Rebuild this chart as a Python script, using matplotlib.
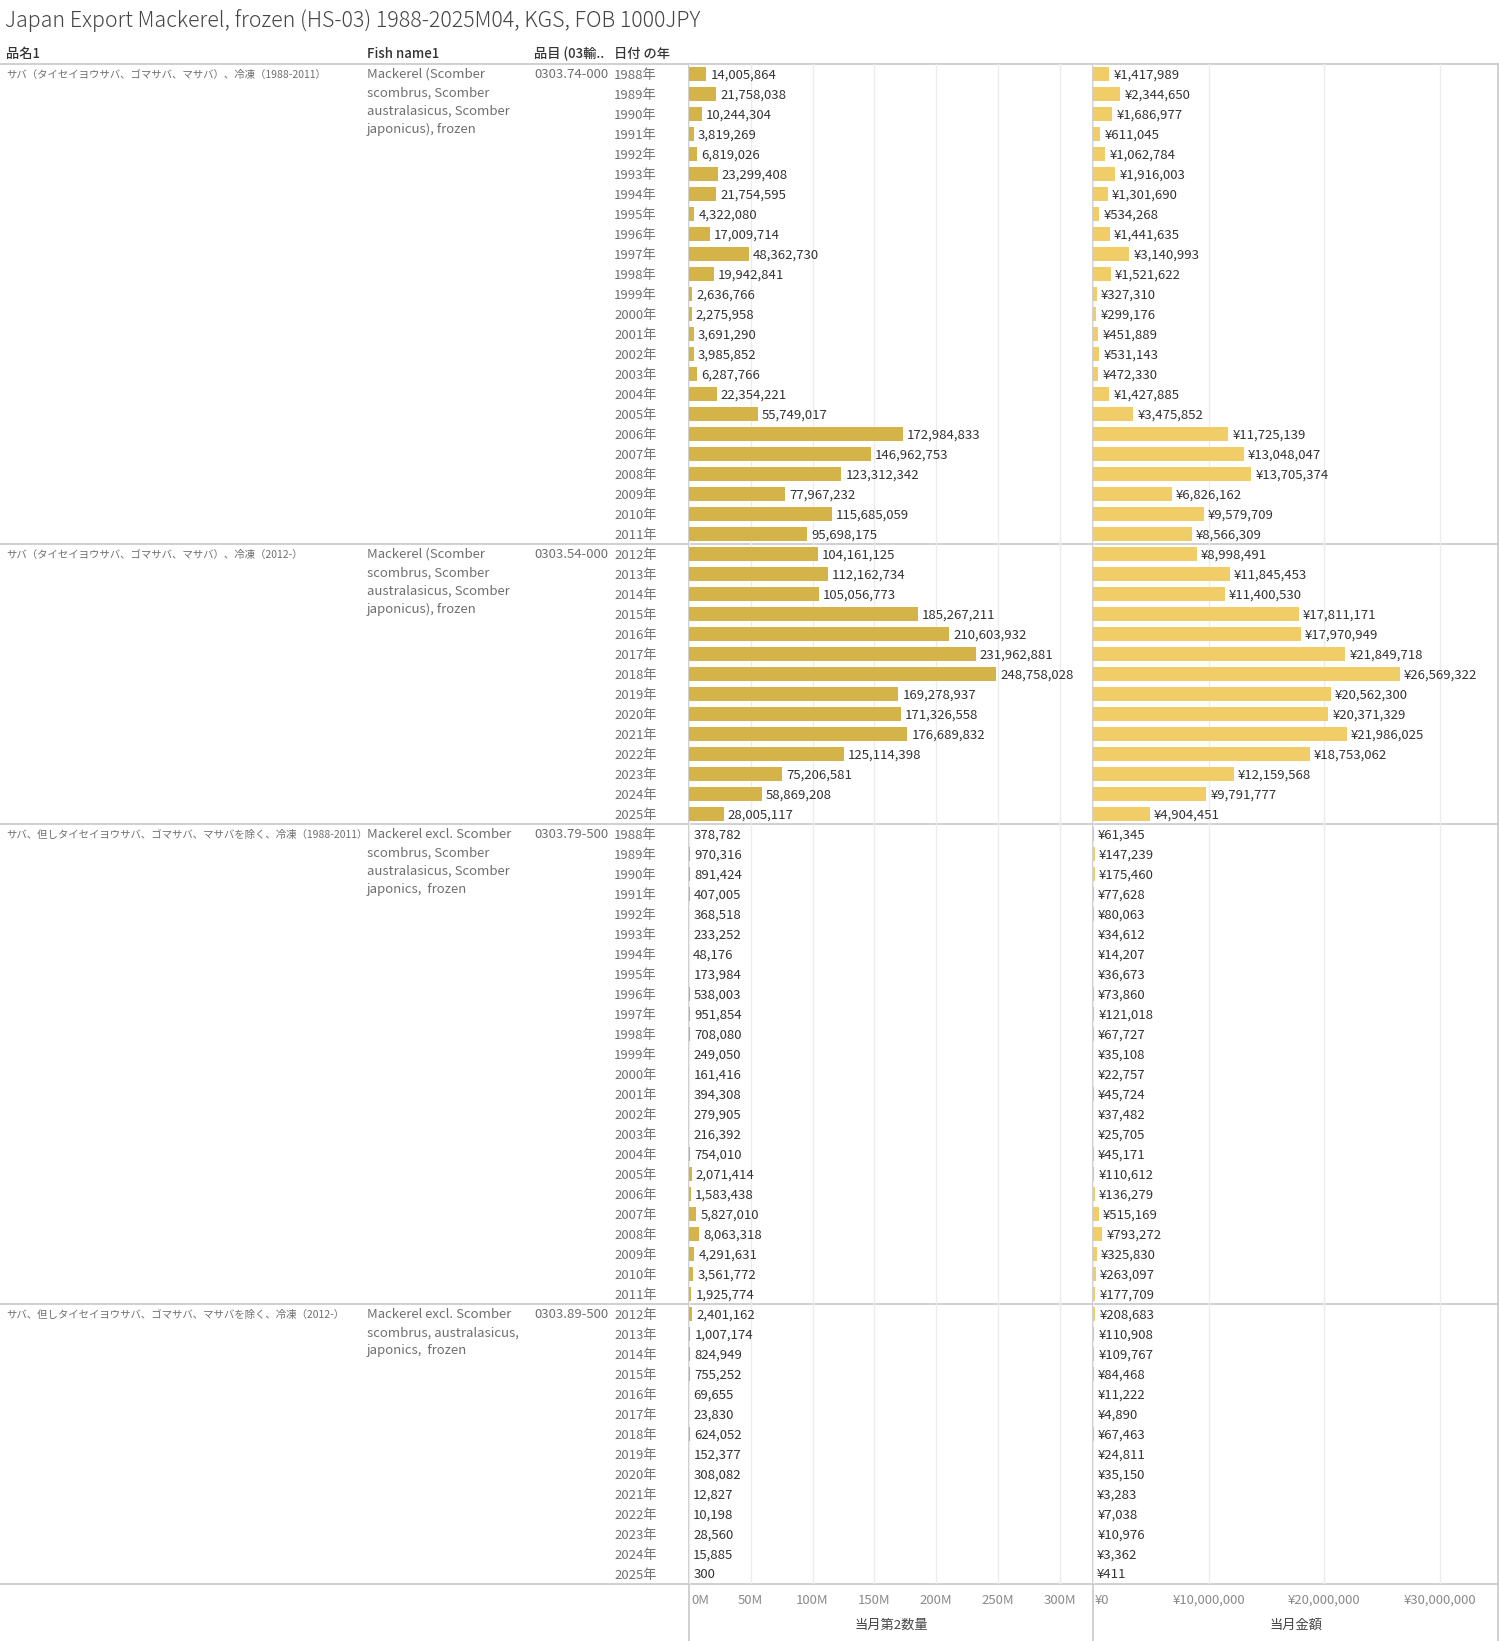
import matplotlib
matplotlib.use("Agg")
import matplotlib.pyplot as plt

plt.rcParams['font.family'] = ['Noto Sans CJK JP', 'DejaVu Sans']

# ---------------- data ----------------
title = "Japan Export Mackerel, frozen (HS-03) 1988-2025M04, KGS, FOB 1000JPY"
headers = ["品名1", "Fish name1", "品目 (03輸..", "日付 の年"]

group_names = [
    "サバ（タイセイヨウサバ、ゴマサバ、マサバ）、冷凍（1988-2011）",
    "サバ（タイセイヨウサバ、ゴマサバ、マサバ）、冷凍（2012-）",
    "サバ、但しタイセイヨウサバ、ゴマサバ、マサバを除く、冷凍（1988-2011）",
    "サバ、但しタイセイヨウサバ、ゴマサバ、マサバを除く、冷凍（2012-）",
]
fish_names = [
    "Mackerel (Scomber\nscombrus, Scomber\naustralasicus, Scomber\njaponicus), frozen",
    "Mackerel (Scomber\nscombrus, Scomber\naustralasicus, Scomber\njaponicus), frozen",
    "Mackerel excl. Scomber\nscombrus, Scomber\naustralasicus, Scomber\njaponics,  frozen",
    "Mackerel excl. Scomber\nscombrus, australasicus,\njaponics,  frozen",
]
hs_codes = ["0303.74-000", "0303.54-000", "0303.79-500", "0303.89-500"]
years_a = list(range(1988, 2012))
years_b = list(range(2012, 2026))
group_years = [years_a, years_b, years_a, years_b]

qty_g1 = [14005864, 21758038, 10244304, 3819269, 6819026, 23299408, 21754595, 4322080,
          17009714, 48362730, 19942841, 2636766, 2275958, 3691290, 3985852, 6287766,
          22354221, 55749017, 172984833, 146962753, 123312342, 77967232, 115685059, 95698175]
val_g1 = [1417989, 2344650, 1686977, 611045, 1062784, 1916003, 1301690, 534268,
          1441635, 3140993, 1521622, 327310, 299176, 451889, 531143, 472330,
          1427885, 3475852, 11725139, 13048047, 13705374, 6826162, 9579709, 8566309]
qty_g2 = [104161125, 112162734, 105056773, 185267211, 210603932, 231962881, 248758028,
          169278937, 171326558, 176689832, 125114398, 75206581, 58869208, 28005117]
val_g2 = [8998491, 11845453, 11400530, 17811171, 17970949, 21849718, 26569322,
          20562300, 20371329, 21986025, 18753062, 12159568, 9791777, 4904451]
qty_g3 = [378782, 970316, 891424, 407005, 368518, 233252, 48176, 173984,
          538003, 951854, 708080, 249050, 161416, 394308, 279905, 216392,
          754010, 2071414, 1583438, 5827010, 8063318, 4291631, 3561772, 1925774]
val_g3 = [61345, 147239, 175460, 77628, 80063, 34612, 14207, 36673,
          73860, 121018, 67727, 35108, 22757, 45724, 37482, 25705,
          45171, 110612, 136279, 515169, 793272, 325830, 263097, 177709]
qty_g4 = [2401162, 1007174, 824949, 755252, 69655, 23830, 624052,
          152377, 308082, 12827, 10198, 28560, 15885, 300]
val_g4 = [208683, 110908, 109767, 84468, 11222, 4890, 67463,
          24811, 35150, 3283, 7038, 10976, 3362, 411]

qty_groups = [qty_g1, qty_g2, qty_g3, qty_g4]
val_groups = [val_g1, val_g2, val_g3, val_g4]

qty_ticks = [0, 50e6, 100e6, 150e6, 200e6, 250e6, 300e6]
val_ticks = [0, 10e6, 20e6, 30e6]
axis_titles = ["当月第2数量", "当月金額"]

# ---------------- layout ----------------
W, H = 1500, 1641
fig = plt.figure(figsize=(W / 100, H / 100), dpi=100)
fig.patch.set_facecolor("white")

bg = fig.add_axes([0, 0, 1, 1])
bg.set_xlim(0, W)
bg.set_ylim(H, 0)
bg.axis("off")

TOP, ROW = 64, 20
P1L, P1R, P2R = 689, 1093, 1498
QMAX, VMAX = 327e6, 35.05e6
n_rows = sum(len(y) for y in group_years)
BOT = TOP + ROW * n_rows

FS = 9.5
C_TXT = "#333333"
C_GRAY = "#6f6f6f"
C_LINE = "#c8c8c8"
C_GRID = "#ececec"
C_QTY = "#D4B349"
C_VAL = "#F0CD67"

bg.text(5, 21, title, fontsize=15.4, color="#444444", va="center", ha="left",
        weight="light")
for x, h in zip([6, 367, 534, 614], headers):
    bg.text(x, 54, h, fontsize=FS, color=C_TXT, va="center", ha="left", weight="medium")

# panels
ax1 = fig.add_axes([P1L / W, 1 - BOT / H, (P1R - P1L) / W, (BOT - TOP) / H])
ax2 = fig.add_axes([P1R / W, 1 - BOT / H, (P2R - P1R) / W, (BOT - TOP) / H])

qty_all, val_all = [], []
for qs, vs in zip(qty_groups, val_groups):
    qty_all += qs
    val_all += vs
rows = list(range(len(qty_all)))

for ax, data, color, ticks, xmax, fmt in [
    (ax1, qty_all, C_QTY, qty_ticks, QMAX, lambda v: f"{v:,.0f}"),
    (ax2, val_all, C_VAL, val_ticks, VMAX, lambda v: f"¥{v:,.0f}"),
]:
    ax.set_xlim(0, xmax)
    ax.set_ylim(n_rows - 0.5, -0.5)
    ax.barh(rows, data, height=0.7, color=color, zorder=2)
    for r, v in zip(rows, data):
        ax.annotate(fmt(v), xy=(v, r), xytext=(3, -0.5), textcoords="offset points",
                    va="center", ha="left", fontsize=FS, color=C_TXT, zorder=3)
    for t in ticks:
        ax.axvline(t, color=C_GRID, lw=1, zorder=1)
    ax.set_xticks([])
    ax.set_yticks([])
    for s in ax.spines.values():
        s.set_visible(False)
    ax.patch.set_alpha(0)

# row labels
r = 0
for gi, ys in enumerate(group_years):
    y0 = TOP + ROW * r + ROW / 2 + 1
    bg.text(6, y0, group_names[gi], fontsize=7.5, color=C_GRAY, va="center", ha="left")
    bg.text(367, y0 - 7, fish_names[gi], fontsize=FS, color=C_GRAY, va="top", ha="left",
            linespacing=1.52)
    bg.text(534, y0, hs_codes[gi], fontsize=FS, color=C_GRAY, va="center", ha="left")
    for k, yr in enumerate(ys):
        bg.text(614, TOP + ROW * (r + k) + ROW / 2 + 1, f"{yr}年", fontsize=FS,
                color=C_GRAY, va="center", ha="left")
    r += len(ys)

# separators
bounds = [TOP]
acc = 0
for ys in group_years:
    acc += len(ys)
    bounds.append(TOP + ROW * acc)
for yb in bounds:
    bg.plot([0, P2R], [yb, yb], color=C_LINE, lw=1.2, zorder=5)
for xv in [P1L, P1R, P2R]:
    bg.plot([xv, xv], [TOP, H], color=C_LINE, lw=1.2, zorder=5)

# axis tick labels
def px(ax_left, ax_right, xmax, v):
    return ax_left + (ax_right - ax_left) * v / xmax

for t in qty_ticks:
    xp = px(P1L, P1R, QMAX, t)
    lab = f"{t / 1e6:.0f}M"
    if t == 0:
        bg.text(xp + 2, 1600, lab, fontsize=FS, color="#8a8a8a", va="center", ha="left")
    else:
        bg.text(xp, 1600, lab, fontsize=FS, color="#8a8a8a", va="center", ha="center")
for t in val_ticks:
    xp = px(P1R, P2R, VMAX, t)
    lab = f"¥{t:,.0f}"
    if t == 0:
        bg.text(xp + 2, 1600, lab, fontsize=FS, color="#8a8a8a", va="center", ha="left")
    else:
        bg.text(xp, 1600, lab, fontsize=FS, color="#8a8a8a", va="center", ha="center")

bg.text((P1L + P1R) / 2, 1625, axis_titles[0], fontsize=FS, color="#444444",
        va="center", ha="center")
bg.text((P1R + P2R) / 2, 1625, axis_titles[1], fontsize=FS, color="#444444",
        va="center", ha="center")

fig.savefig("out.png", dpi=100, facecolor="white")
